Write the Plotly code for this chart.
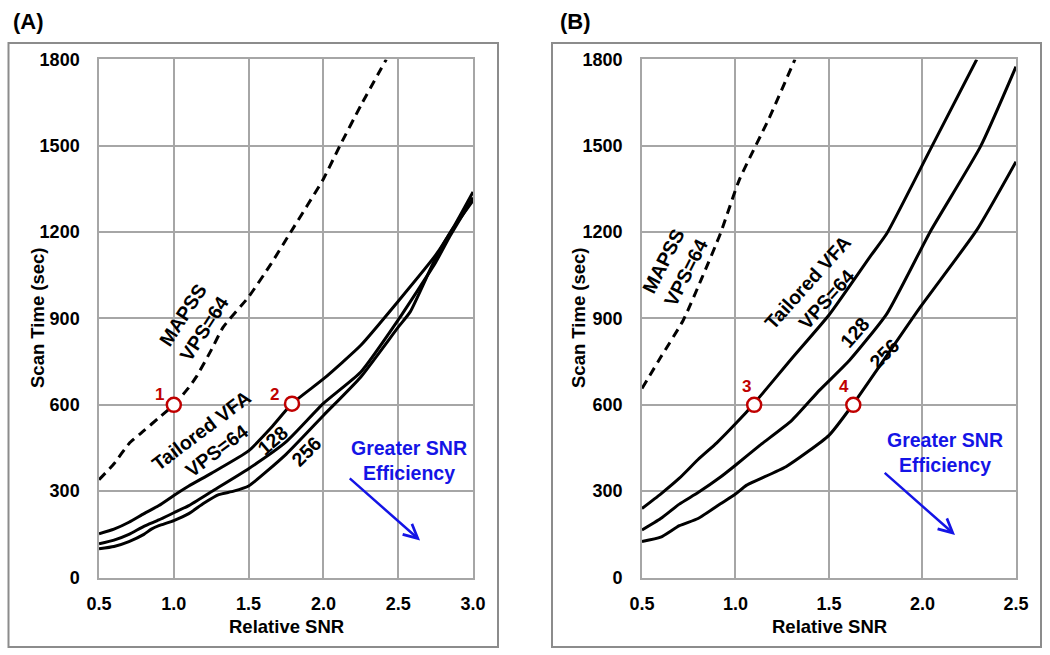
import plotly.graph_objects as go

# ---------------- Panel A data ----------------
a_mapss_x = [0.5, 0.6, 0.7, 0.8, 0.9, 1.0, 1.1, 1.15, 1.25, 1.33, 1.5, 1.65, 1.78, 2.0, 2.11, 2.25, 2.42]
a_mapss_y = [340, 395, 465, 510, 555, 600, 660, 697, 790, 870, 975, 1090, 1199, 1385, 1500, 1640, 1800]

a_vps64_x = [0.5, 0.6, 0.7, 0.8, 0.9, 1.0, 1.1, 1.25, 1.5, 1.65, 1.79, 2.0, 2.25, 2.5, 2.75, 2.87, 3.0]
a_vps64_y = [152, 168, 192, 222, 250, 285, 318, 362, 440, 520, 604, 690, 807, 960, 1120, 1218, 1340]

a_vps128_x = [0.5, 0.6, 0.7, 0.8, 0.9, 1.0, 1.1, 1.25, 1.5, 1.75, 2.0, 2.25, 2.5, 2.75, 2.85, 3.0]
a_vps128_y = [117, 130, 150, 178, 200, 225, 250, 298, 378, 471, 605, 714, 895, 1095, 1190, 1320]

a_vps256_x = [0.5, 0.6, 0.7, 0.8, 0.85, 0.9, 1.0, 1.1, 1.2, 1.3, 1.4, 1.5, 1.75, 2.0, 2.25, 2.5, 2.58, 2.75, 2.85, 3.0]
a_vps256_y = [100, 108, 125, 150, 168, 180, 198, 222, 258, 288, 300, 318, 428, 563, 697, 870, 923, 1110, 1200, 1310]

a_pts_x = [1.0, 1.79]
a_pts_y = [600, 604]
a_pts_lab = ["1", "2"]

# ---------------- Panel B data ----------------
b_mapss_x = [0.5, 0.6, 0.72, 0.82, 0.92, 1.02, 1.18, 1.318]
b_mapss_y = [657, 765, 893, 1040, 1196, 1381, 1596, 1800]

b_vps64_x = [0.5, 0.6, 0.7, 0.8, 0.9, 1.0, 1.1, 1.3, 1.5, 1.72, 1.81, 2.04, 2.29]
b_vps64_y = [240, 290, 345, 410, 468, 534, 605, 760, 912, 1115, 1196, 1485, 1800]

b_vps128_x = [0.5, 0.6, 0.7, 0.8, 0.92, 1.0, 1.13, 1.3, 1.45, 1.61, 1.81, 2.04, 2.31, 2.5]
b_vps128_y = [165, 205, 255, 295, 349, 390, 459, 545, 651, 755, 917, 1200, 1497, 1775]

b_vps256_x = [0.5, 0.6, 0.7, 0.8, 0.92, 1.0, 1.06, 1.27, 1.5, 1.63, 1.99, 2.29, 2.5]
b_vps256_y = [125, 140, 180, 205, 256, 290, 321, 385, 494, 603, 941, 1207, 1445]

b_pts_x = [1.1, 1.63]
b_pts_y = [600, 600]
b_pts_lab = ["3", "4"]

y_ticks = [0, 300, 600, 900, 1200, 1500, 1800]
a_x_ticks = [0.5, 1.0, 1.5, 2.0, 2.5, 3.0]
b_x_ticks = [0.5, 1.0, 1.5, 2.0, 2.5]

FONT = "Liberation Sans, Arial, sans-serif"
RED = "#c00000"
BLUE = "#1414e6"
GRID = "#a6a6a6"

fig = go.Figure()

def add_line(x, y, xa, ya, dash="solid"):
    fig.add_trace(go.Scatter(x=x, y=y, mode="lines", xaxis=xa, yaxis=ya,
                             line=dict(color="black", width=3, dash=dash, shape="spline", smoothing=0.5),
                             hoverinfo="skip", cliponaxis=True))

dash = "9px,6px"
add_line(a_mapss_x, a_mapss_y, "x", "y", dash)
add_line(a_vps64_x, a_vps64_y, "x", "y")
add_line(a_vps128_x, a_vps128_y, "x", "y")
add_line(a_vps256_x, a_vps256_y, "x", "y")
add_line(b_mapss_x, b_mapss_y, "x2", "y2", dash)
add_line(b_vps64_x, b_vps64_y, "x2", "y2")
add_line(b_vps128_x, b_vps128_y, "x2", "y2")
add_line(b_vps256_x, b_vps256_y, "x2", "y2")

for px, py, xa, ya in [(a_pts_x, a_pts_y, "x", "y"), (b_pts_x, b_pts_y, "x2", "y2")]:
    fig.add_trace(go.Scatter(x=px, y=py, mode="markers", xaxis=xa, yaxis=ya,
                             marker=dict(symbol="circle", size=14, color="white",
                                         line=dict(color=RED, width=2.5)),
                             hoverinfo="skip", cliponaxis=False))

axis_common = dict(showgrid=True, gridcolor=GRID, gridwidth=1.5, showline=True,
                   linecolor=GRID, linewidth=1.5, mirror=True, ticks="", zeroline=False,
                   automargin=False,
                   tickfont=dict(family=FONT, size=18, color="black", weight="bold"))

plot_y = [0.1183, 0.9092]
fig.update_layout(
    width=1050, height=655, margin=dict(l=0, r=0, t=0, b=0, pad=0, autoexpand=False),
    paper_bgcolor="white", plot_bgcolor="white", showlegend=False,
    xaxis=dict(domain=[0.0943, 0.4505], range=[0.5, 3.0], tickvals=a_x_ticks,
               tickformat=".1f", anchor="y", ticklabelstandoff=9, **axis_common),
    yaxis=dict(domain=plot_y, range=[0, 1800], tickvals=y_ticks, anchor="x",
               ticklabelstandoff=14, **axis_common),
    xaxis2=dict(domain=[0.6114, 0.9676], range=[0.5, 2.5], tickvals=b_x_ticks,
                tickformat=".1f", anchor="y2", ticklabelstandoff=9, **axis_common),
    yaxis2=dict(domain=plot_y, range=[0, 1800], tickvals=y_ticks, anchor="x2",
                ticklabelstandoff=14, **axis_common),
)

# outer panel boxes
for x0, x1 in [(8.5, 498), (552, 1041)]:
    fig.add_shape(type="rect", xref="paper", yref="paper",
                  x0=x0 / 1050, x1=x1 / 1050, y0=1 - 647 / 655, y1=1 - 43 / 655,
                  line=dict(color="#8c8c8c", width=2), fillcolor="rgba(0,0,0,0)", layer="below")

ann = []
bold = dict(family=FONT, size=18.5, color="black", weight="bold")
C = dict(xanchor="center", yanchor="middle", showarrow=False, xref="paper", yref="paper")
# panel letters
ann.append(dict(text="(A)", x=28 / 1050, y=1 - 21 / 655,
                font=dict(family=FONT, size=22, color="black", weight="bold"), **C))
ann.append(dict(text="(B)", x=575 / 1050, y=1 - 21 / 655,
                font=dict(family=FONT, size=22, color="black", weight="bold"), **C))
# axis titles
for xc in [37, 578]:
    ann.append(dict(text="Scan Time (sec)", x=xc / 1050, y=1 - 318 / 655, textangle=-90, font=bold, **C))
for xc in [286, 829]:
    ann.append(dict(text="Relative SNR", x=xc / 1050, y=1 - 626 / 655, font=bold, **C))

def lab(text, x, y, xr, yr, ang, color="black", size=19.5):
    ann.append(dict(text=text, x=x, y=y, xref=xr, yref=yr, textangle=ang, showarrow=False,
                    xanchor="center", yanchor="middle",
                    font=dict(family=FONT, size=size, color=color, weight="bold")))

# Panel A curve labels
lab("MAPSS<br>VPS=64", 1.13, 890, "x", "y", -57)
lab("Tailored VFA<br>VPS=64", 1.233, 476, "x", "y", -37)
lab("128", 1.661, 479, "x", "y", -41)
lab("256", 1.888, 439, "x", "y", -45)
lab("Greater SNR<br>Efficiency", 2.574, 407, "x", "y", 0, BLUE)
# Panel B curve labels
lab("MAPSS<br>VPS=64", 0.673, 1081, "x2", "y2", -63)
lab("Tailored VFA<br>VPS=64", 1.436, 997, "x2", "y2", -48)
lab("128", 1.639, 854, "x2", "y2", -49)
lab("256", 1.799, 779, "x2", "y2", -45)
lab("Greater SNR<br>Efficiency", 2.123, 433, "x2", "y2", 0, BLUE)

# arrows
ann.append(dict(x=2.646, y=129, ax=2.166, ay=349, xref="x", yref="y", axref="x", ayref="y",
                text="", showarrow=True, arrowhead=5, arrowsize=1.1, arrowwidth=2.5, arrowcolor=BLUE))
ann.append(dict(x=2.174, y=148, ax=1.79, ay=368, xref="x2", yref="y2", axref="x2", ayref="y2",
                text="", showarrow=True, arrowhead=5, arrowsize=1.1, arrowwidth=2.5, arrowcolor=BLUE))

# point numbers
shifts_a = [(-14, 10), (-18, 9)]
for xv, yv, t, (dx, dy) in zip(a_pts_x, a_pts_y, a_pts_lab, shifts_a):
    ann.append(dict(text=t, x=xv, y=yv, xref="x", yref="y", xshift=dx, yshift=dy, showarrow=False,
                    xanchor="center", yanchor="middle",
                    font=dict(family=FONT, size=17, color=RED, weight="bold")))
shifts_b = [(-8, 18), (-9, 18)]
for xv, yv, t, (dx, dy) in zip(b_pts_x, b_pts_y, b_pts_lab, shifts_b):
    ann.append(dict(text=t, x=xv, y=yv, xref="x2", yref="y2", xshift=dx, yshift=dy, showarrow=False,
                    xanchor="center", yanchor="middle",
                    font=dict(family=FONT, size=17, color=RED, weight="bold")))

fig.update_layout(annotations=ann)
fig.write_html("out.html", config={"displayModeBar": False},
               post_script="document.body.style.margin='0';document.body.style.overflow='hidden';")
